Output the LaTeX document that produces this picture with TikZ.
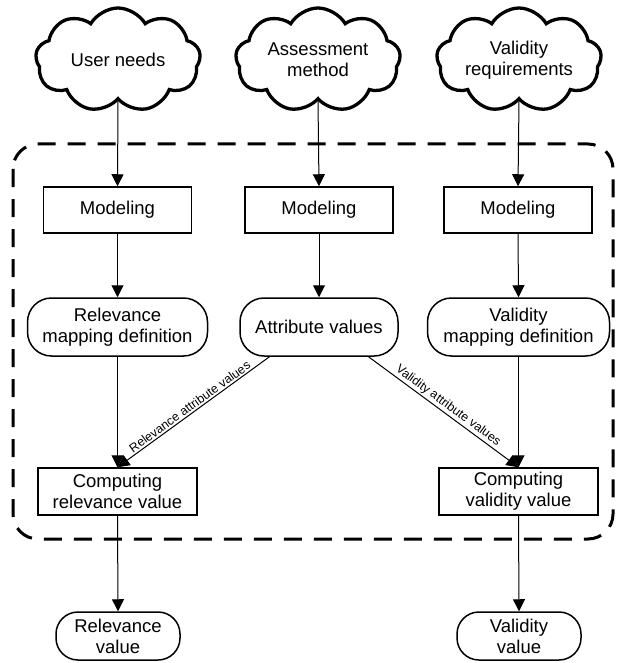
\documentclass[tikz,border=0pt]{standalone}
\usepackage{fontspec}
\setmainfont{Liberation Sans}
\usetikzlibrary{shapes.symbols,arrows.meta,calc}
\begin{document}
\begin{tikzpicture}[x=1pt,y=-1pt,
  every node/.style={font=\fontsize{18.5}{21}\selectfont, align=center, inner sep=0pt},
  cloudnode/.style={cloud, cloud puffs=9, cloud puff arc=120, cloud ignores aspect, draw, line width=3.3pt, minimum width=165pt, minimum height=104pt},
  modbox/.style={draw, line width=1.5pt, minimum width=148pt, minimum height=46pt},
  roundbox/.style={draw, line width=1.5pt, rounded corners=24pt, minimum height=58pt},
  compbox/.style={draw, line width=1.5pt, minimum width=159pt, minimum height=47pt},
  ovalbox/.style={draw, line width=1.5pt, rounded corners=22pt, minimum width=124pt, minimum height=48pt},
  frame/.style={line width=3pt, rounded corners=25pt, dash pattern=on 18pt off 12pt},
  conn/.style={line width=1pt, -{Triangle[width=12pt,length=12pt]}},
  lbl/.style={font=\fontsize{12.4}{14}\selectfont, sloped, above, inner sep=1.5pt}
]
\useasboundingbox (0,0) rectangle (617,663);

\draw[frame] (13,144) rectangle (613,539);

\node[cloudnode] (c1) at (118,60) {User needs};
\node[cloudnode] (c2) at (318,60) {Assessment\\method};
\node[cloudnode] (c3) at (519,60) {Validity\\requirements};

\node[modbox] (m1) at (117.5,210) {Modeling};
\node[modbox] (m2) at (319,210) {Modeling};
\node[modbox] (m3) at (518,210) {Modeling};

\node[roundbox, minimum width=180pt] (relmap) at (117.5,327) {Relevance\\mapping definition};
\node[roundbox, minimum width=158pt] (attr) at (319,327) {Attribute values};
\node[roundbox, minimum width=182pt] (valmap) at (518.5,327) {Validity\\mapping definition};

\node[compbox] (crel) at (117.5,491.5) {Computing\\relevance value};
\node[compbox] (cval) at (518.5,491.5) {Computing\\validity value};

\node[ovalbox] (orel) at (118,636) {Relevance\\value};
\node[ovalbox] (oval) at (519,636) {Validity\\value};

\draw[conn] (c1.south) -- (m1.north);
\draw[conn] (c2.south) -- (m2.north);
\draw[conn] (c3.south) -- (m3.north);

\draw[conn] (m1.south) -- (relmap.north);
\draw[conn] (m2.south) -- (attr.north);
\draw[conn] (m3.south) -- (valmap.north);

\draw[conn] (relmap.south) -- (crel.north);
\draw[conn] (valmap.south) -- (cval.north);

\draw[conn] (attr.211) -- node[lbl] {Relevance attribute values} (crel.north);
\draw[conn] (attr.329) -- node[lbl] {Validity attribute values} (cval.north);

\draw[conn] (crel.south) -- (orel.north);
\draw[conn] (cval.south) -- (oval.north);
\end{tikzpicture}
\end{document}
